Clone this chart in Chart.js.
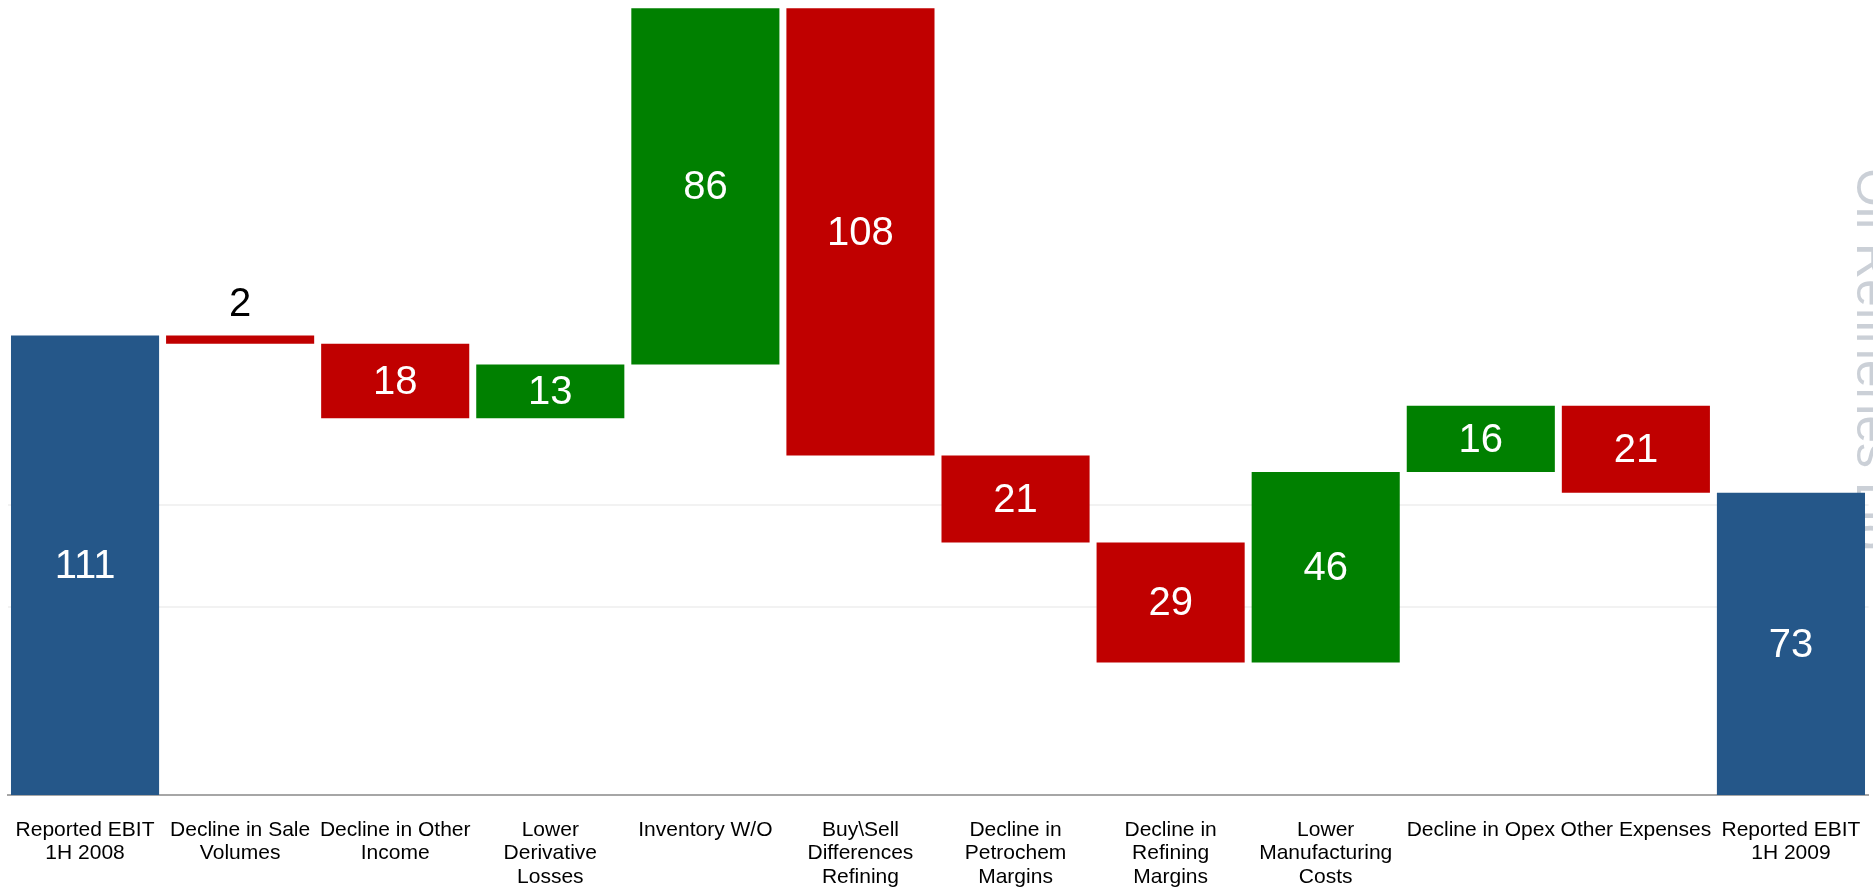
<!DOCTYPE html>
<html lang="en">
<head>
    <meta charset="UTF-8">
    <title>EBIT Bridge</title>
    <style>
        html, body { margin: 0; padding: 0; background: #fff; overflow: hidden; }
        .wrap { position: relative; width: 1873px; height: 895px; }
    </style>
</head>
<body>
    <div class="wrap">
        <canvas id="myChart"></canvas>
    </div>

    <script src="https://cdn.jsdelivr.net/npm/chart.js"></script>
    <script>
        // chart data
        const categories = [
            ['Reported EBIT', '1H 2008'],
            ['Decline in Sale', 'Volumes'],
            ['Decline in Other', 'Income'],
            ['Lower', 'Derivative', 'Losses'],
            ['Inventory W/O'],
            ['Buy\\Sell', 'Differences', 'Refining'],
            ['Decline in', 'Petrochem', 'Margins'],
            ['Decline in', 'Refining', 'Margins'],
            ['Lower', 'Manufacturing', 'Costs'],
            ['Decline in Opex'],
            ['Other Expenses'],
            ['Reported EBIT', '1H 2009']
        ];
        const changes = [111, -2, -18, 13, 86, -108, -21, -29, 46, 16, -21, 73];
        const kinds = ['total', 'step', 'step', 'step', 'step', 'step', 'step', 'step', 'step', 'step', 'step', 'total'];
        const gridValues = [45.5, 70];
        const yMax = 192;

        const colors = { total: '#255789', up: '#008000', down: '#c00000' };

        // build floating bars from the running total
        let running = 0;
        const floats = [];
        const barColors = [];
        changes.forEach((v, i) => {
            if (kinds[i] === 'total') {
                floats.push([0, v]);
                running = v;
                barColors.push(colors.total);
            } else {
                floats.push([running, running + v]);
                running += v;
                barColors.push(v >= 0 ? colors.up : colors.down);
            }
        });

        const valueLabels = {
            id: 'valueLabels',
            afterDatasetsDraw(chart) {
                const c = chart.ctx;
                const meta = chart.getDatasetMeta(0);
                c.save();
                c.font = '40px "Liberation Sans", Arial, sans-serif';
                c.textAlign = 'center';
                meta.data.forEach((bar, i) => {
                    const txt = String(Math.abs(changes[i]));
                    const top = Math.min(bar.y, bar.base);
                    const h = Math.abs(bar.base - bar.y);
                    if (h < 30) {
                        c.fillStyle = '#000';
                        c.textBaseline = 'bottom';
                        c.fillText(txt, bar.x, top - 10);
                    } else {
                        c.fillStyle = '#fff';
                        c.textBaseline = 'middle';
                        c.fillText(txt, bar.x, top + h / 2 + 2);
                    }
                });
                c.restore();
            }
        };

        // faint watermark cut off at the right edge, sits behind the bars
        const watermark = {
            id: 'watermark',
            beforeDatasetsDraw(chart) {
                const c = chart.ctx;
                c.save();
                c.translate(1857, 168);
                c.rotate(Math.PI / 2);
                c.font = '50px "Liberation Sans", Arial, sans-serif';
                c.fillStyle = '#cbd0d7';
                c.textBaseline = 'alphabetic';
                c.textAlign = 'left';
                c.fillText('Oil Refineries Ltd.', 0, 0);
                c.restore();
            }
        };

        const ctx = document.getElementById('myChart');

        new Chart(ctx, {
            type: 'bar',
            data: {
                labels: categories,
                datasets: [{
                    data: floats,
                    backgroundColor: barColors,
                    borderWidth: 0,
                    barPercentage: 0.955,
                    categoryPercentage: 1
                }]
            },
            options: {
                responsive: true,
                maintainAspectRatio: false,
                animation: false,
                layout: { padding: { left: 7.5, right: 4.5, top: 0, bottom: 0 } },
                plugins: {
                    legend: { display: false },
                    tooltip: { enabled: false }
                },
                scales: {
                    x: {
                        grid: { display: false, drawTicks: true, tickLength: 24 },
                        border: { display: true, color: '#a6a6a6', width: 2 },
                        ticks: {
                            autoSkip: false,
                            maxRotation: 0,
                            minRotation: 0,
                            padding: 0,
                            color: '#000',
                            font: { family: '"Liberation Sans", Arial, sans-serif', size: 21, lineHeight: 1.1 }
                        },
                        afterFit(scale) { scale.height = 100; }
                    },
                    y: {
                        min: 0,
                        max: yMax,
                        border: { display: false },
                        grid: { color: '#f2f2f2', lineWidth: 2, drawTicks: false },
                        ticks: { display: false },
                        afterBuildTicks(scale) { scale.ticks = gridValues.map(v => ({ value: v })); },
                        afterFit(scale) { scale.width = 0; }
                    }
                }
            },
            plugins: [valueLabels, watermark]
        });
    </script>
</body>
</html>
